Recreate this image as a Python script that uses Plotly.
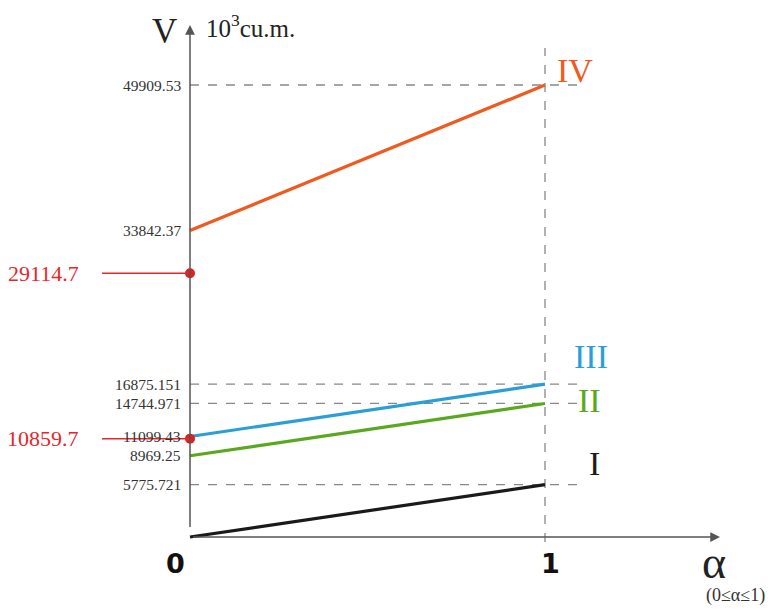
import plotly.graph_objects as go

# ---- data ----
alpha = [0, 1]
series_names = ["I", "II", "III", "IV"]
series_start = [0, 8969.25, 11099.43, 33842.37]
series_end = [5775.721, 14744.971, 16875.151, 49909.53]
series_colors = ["#1a1a1a", "#5aa81e", "#2a9fd6", "#f05a1e"]
tick_values = [49909.53, 33842.37, 16875.151, 14744.971, 11099.43, 8969.25, 5775.721]
tick_labels = ["49909.53", "33842.37", "16875.151", "14744.971", "11099.43", "8969.25", "5775.721"]
dashed_levels = [49909.53, 16875.151, 14744.971, 5775.721]
red_values = [29114.7, 10859.7]
red_labels = ["29114.7", "10859.7"]

SERIF = "Liberation Serif, Times New Roman, serif"
ppu = 452 / 49909.53  # pixels per unit (vertical)
xppu = 355.0
PAGE_OFF = 8  # default page margin in the html
OX = 190 - PAGE_OFF  # x=0 in figure pixels
OY = 537 - PAGE_OFF  # y=0 in figure pixels


def fx(px):
    return (px - PAGE_OFF - OX) / xppu


def fy(py):
    return (OY - (py - PAGE_OFF)) / ppu


fig = go.Figure()

# dashed guides
for lv in dashed_levels:
    fig.add_shape(type="line", x0=0, x1=fx(585), y0=lv, y1=lv,
                  line=dict(color="#888888", width=1.3, dash="dash"), layer="below")
fig.add_shape(type="line", x0=1, x1=1, y0=fy(542), y1=fy(48),
              line=dict(color="#888888", width=1.3, dash="dash"), layer="below")

# axes with arrows
fig.add_annotation(x=0, y=fy(25), ax=0, ay=0, axref="x", ayref="y", xref="x", yref="y",
                   showarrow=True, arrowhead=2, arrowsize=1.3, arrowwidth=1.5,
                   arrowcolor="#555555", text=" ")
fig.add_annotation(x=fx(720), y=0, ax=0, ay=0, axref="x", ayref="y", xref="x", yref="y",
                   showarrow=True, arrowhead=2, arrowsize=1.3, arrowwidth=1.5,
                   arrowcolor="#555555", text=" ")

# series lines
for name, s, e, c in zip(series_names, series_start, series_end, series_colors):
    fig.add_trace(go.Scatter(x=alpha, y=[s, e], mode="lines",
                             line=dict(color=c, width=3.2), showlegend=False,
                             name=name, hoverinfo="skip"))

# series labels
label_pos = {"IV": (575, 70), "III": (591, 356), "II": (589, 400), "I": (594, 463)}
for name, c in zip(series_names, series_colors):
    px, py = label_pos[name]
    fig.add_annotation(x=fx(px), y=fy(py), text=name, showarrow=False,
                       font=dict(family=SERIF, size=34, color=c), xanchor="center", yanchor="middle")

# tick labels
for v, t in zip(tick_values, tick_labels):
    fig.add_annotation(x=fx(183), y=v, text=t, showarrow=False, xanchor="right", yanchor="middle",
                       font=dict(family=SERIF, size=15.5, color="#333333"))

# red markers
for v, t in zip(red_values, red_labels):
    fig.add_shape(type="line", x0=fx(102), x1=0, y0=v, y1=v,
                  line=dict(color="#e8262a", width=1.5))
    fig.add_annotation(x=fx(81), y=v, text=t, showarrow=False, xanchor="right", yanchor="middle",
                       font=dict(family=SERIF, size=22, color="#e8262a"))
fig.add_trace(go.Scatter(x=[0] * len(red_values), y=red_values, mode="markers",
                         marker=dict(color="#e02020", size=10), showlegend=False, hoverinfo="skip",
                         cliponaxis=False))

# axis titles
fig.add_annotation(x=fx(164), y=fy(31), text="V", showarrow=False,
                   font=dict(family=SERIF, size=35, color="#222222"), xanchor="center", yanchor="middle")
fig.add_annotation(x=fx(204), y=fy(26), text="10<sup>3</sup>cu.m.", showarrow=False,
                   font=dict(family=SERIF, size=25, color="#222222"), xanchor="left", yanchor="middle")
fig.add_annotation(x=fx(714), y=fy(562), text="α", showarrow=False,
                   font=dict(family=SERIF, size=46, color="#222222"), xanchor="center", yanchor="middle")
fig.add_annotation(x=fx(735), y=fy(595), text="(0≤α≤1)", showarrow=False,
                   font=dict(family=SERIF, size=18, color="#333333"), xanchor="center", yanchor="middle")
fig.add_annotation(x=fx(175), y=fy(563), text="<b>0</b>", showarrow=False,
                   font=dict(family="DejaVu Sans", size=27, color="#111111"), xanchor="center", yanchor="middle")
fig.add_annotation(x=fx(550), y=fy(563), text="<b>1</b>", showarrow=False,
                   font=dict(family="DejaVu Sans", size=27, color="#111111"), xanchor="center", yanchor="middle")

fig.update_layout(
    width=775, height=610,
    margin=dict(l=0, r=0, t=0, b=0),
    paper_bgcolor="white", plot_bgcolor="white",
    xaxis=dict(range=[-OX / xppu, (775 - OX) / xppu], visible=False, fixedrange=True),
    yaxis=dict(range=[-(610 - OY) / ppu, OY / ppu], visible=False, fixedrange=True),
    showlegend=False,
)

fig.write_html("out.html")
